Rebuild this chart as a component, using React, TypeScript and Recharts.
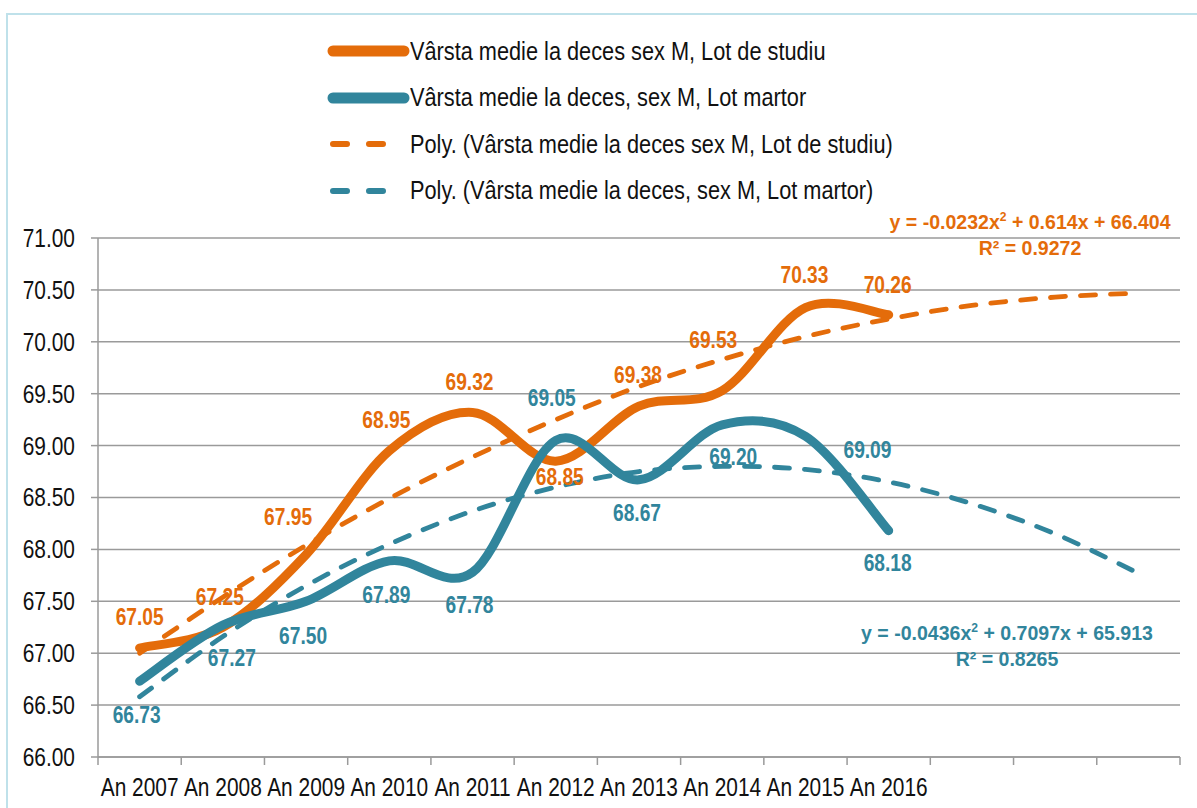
import { LineChart, Line, XAxis, YAxis, CartesianGrid, LabelList } from 'recharts';

// categories (last three are the trendline forecast periods, unlabeled)
const YEARS = ['An 2007', 'An 2008', 'An 2009', 'An 2010', 'An 2011', 'An 2012', 'An 2013', 'An 2014', 'An 2015', 'An 2016'];
const FORECAST = ['', '', ''];

const STUDIU = [67.05, 67.25, 67.95, 68.95, 69.32, 68.85, 69.38, 69.53, 70.33, 70.26];
const MARTOR = [66.73, 67.27, 67.5, 67.89, 67.78, 69.05, 68.67, 69.2, 69.09, 68.18];

const POLY_STUDIU = [67.0, 67.54, 68.04, 68.49, 68.89, 69.25, 69.57, 69.83, 70.05, 70.22, 70.35, 70.43, 70.47];
const POLY_MARTOR = [66.58, 67.16, 67.65, 68.05, 68.37, 68.6, 68.75, 68.8, 68.77, 68.65, 68.44, 68.15, 67.77];

const Y_TICKS = [66, 66.5, 67, 67.5, 68, 68.5, 69, 69.5, 70, 70.5, 71];

const NAMES = [
  'Vârsta medie la deces sex M, Lot de studiu',
  'Vârsta medie la deces, sex M, Lot martor',
  'Poly. (Vârsta medie la deces sex M, Lot de studiu)',
  'Poly. (Vârsta medie la deces, sex M, Lot martor)',
];

// trendline equations: [a, b, c, R²]
const EQ_STUDIU = ['-0.0232', '0.614', '66.404', '0.9272'];
const EQ_MARTOR = ['-0.0436', '0.7097', '65.913', '0.8265'];

const ORANGE = '#E46C0A';
const TEAL = '#31859C';
const GRID = '#9a9a9a';
const FONT = "'Liberation Sans', Arial, sans-serif";
const NARROW = 0.82; // arial narrow look: arial squeezed horizontally

const W = 1197;
const H = 808;
const M = { top: 238, right: 17, bottom: 11, left: 8 };
const Y_W = 90;
const X_H = 40;
const CATS = [...YEARS, ...FORECAST];
const PLOT_W = W - M.left - Y_W - M.right;
const HALF = PLOT_W / CATS.length / 2;

const data = CATS.map((cat, i) => ({
  cat,
  studiu: i < STUDIU.length ? STUDIU[i] : null,
  martor: i < MARTOR.length ? MARTOR[i] : null,
  polyStudiu: POLY_STUDIU[i],
  polyMartor: POLY_MARTOR[i],
}));

// label nudges (dx, dy) from the point, like the hand-placed excel labels
const STUDIU_POS = [[0, -31], [-3, -30], [-18, -38], [-3, -31], [-3, -31], [4, 16], [-1, -31], [-9, -51], [-1, -33], [-1, -30]];
const MARTOR_POS = [[-3, 34], [9, 33], [-3, 34], [-3, 34], [-3, 33], [-4, -43], [-2, 33], [11, 32], [62, 14], [-1, 32]];

// excel-style smoothed line (catmull-rom through the points)
function excelSmooth(context: any) {
  let pts: number[][] = [];
  return {
    areaStart() {},
    areaEnd() {},
    lineStart() {
      pts = [];
    },
    point(x: number, y: number) {
      pts.push([+x, +y]);
    },
    lineEnd() {
      const n = pts.length;
      if (!n) return;
      context.moveTo(pts[0][0], pts[0][1]);
      for (let i = 0; i < n - 1; i++) {
        const p0 = pts[i - 1] || pts[i];
        const p1 = pts[i];
        const p2 = pts[i + 1];
        const p3 = pts[i + 2] || p2;
        context.bezierCurveTo(
          p1[0] + (p2[0] - p0[0]) / 6, p1[1] + (p2[1] - p0[1]) / 6,
          p2[0] - (p3[0] - p1[0]) / 6, p2[1] - (p3[1] - p1[1]) / 6,
          p2[0], p2[1]
        );
      }
    },
  };
}

const NarrowText = ({ x, y, anchor = 'middle', size, color = '#111', bold = false, children }: any) => (
  <text transform={`translate(${x},${y}) scale(${NARROW},1)`} textAnchor={anchor} dy="0.35em"
    fill={color} fontFamily={FONT} fontSize={size} fontWeight={bold ? 'bold' : 'normal'}>
    {children}
  </text>
);

const makeLabel = (color: string, pos: number[][]) => (props: any) => {
  const { x, y, value, index } = props;
  if (value == null) return null;
  const [dx, dy] = pos[index] || [0, -30];
  return (
    <NarrowText x={x + dx} y={y + dy} size={23.4} color={color} bold>
      {Number(value).toFixed(2)}
    </NarrowText>
  );
};

const XTick = (props: any) => {
  const { x, y, payload, index } = props;
  return (
    <g>
      <line x1={x - HALF} x2={x - HALF} y1={y} y2={y + 8} stroke={GRID} strokeWidth={1.5} />
      {index === CATS.length - 1 && (
        <line x1={x + HALF} x2={x + HALF} y1={y} y2={y + 8} stroke={GRID} strokeWidth={1.5} />
      )}
      <NarrowText x={x} y={y + 30} size={25.5}>{payload.value}</NarrowText>
    </g>
  );
};

const YTick = (props: any) => {
  const { x, y, payload } = props;
  return (
    <NarrowText x={x} y={y} anchor="end" size={25.5}>
      {Number(payload.value).toFixed(2)}
    </NarrowText>
  );
};

function LegendBox() {
  const rows = [
    { color: ORANGE, dashed: false },
    { color: TEAL, dashed: false },
    { color: ORANGE, dashed: true },
    { color: TEAL, dashed: true },
  ];
  return (
    <>
      {rows.map((r, i) => (
        <div key={i} style={{ position: 'absolute', left: 326, top: 51 + i * 46.5 - 15, height: 30, display: 'flex', alignItems: 'center' }}>
          <svg width={84} height={30} style={{ flex: 'none' }}>
            {r.dashed ? (
              <line x1={7} x2={62} y1={15} y2={15} stroke={r.color} strokeWidth={6} strokeLinecap="round" strokeDasharray="14 22" />
            ) : (
              <line x1={7} x2={78} y1={15} y2={15} stroke={r.color} strokeWidth={11} strokeLinecap="round" />
            )}
          </svg>
          <span style={{ fontFamily: FONT, fontSize: 26.5, color: '#111', whiteSpace: 'nowrap', display: 'inline-block', transform: `scaleX(${NARROW})`, transformOrigin: 'left center' }}>
            {NAMES[i]}
          </span>
        </div>
      ))}
    </>
  );
}

function Equation({ eq, color, cx, top }: { eq: string[]; color: string; cx: number; top: number }) {
  const [a, b, c, r2] = eq;
  return (
    <div style={{ position: 'absolute', left: cx - 250, width: 500, top, textAlign: 'center', color, fontFamily: FONT, fontWeight: 'bold', fontSize: 21, lineHeight: '26px', transform: 'scaleX(0.93)' }}>
      <div>
        y = {a}x<sup style={{ fontSize: '0.62em', lineHeight: 0 }}>2</sup> + {b}x + {c}
      </div>
      <div>R² = {r2}</div>
    </div>
  );
}

export default function App() {
  return (
    <div style={{ position: 'absolute', left: 0, top: 0, width: W, height: H, overflow: 'hidden', background: '#fff' }}>
      <div style={{ position: 'absolute', left: 6, top: 13, width: W + 50, height: H + 50, border: '2px solid #bfe1ea', boxSizing: 'border-box' }} />
      <LineChart width={W} height={H} data={data} margin={M} style={{ position: 'absolute', left: 0, top: 0 }}>
        <CartesianGrid vertical={false} stroke={GRID} strokeWidth={1.5} />
        <XAxis dataKey="cat" height={X_H} padding={{ left: HALF, right: HALF }} tickSize={0} tickMargin={0}
          axisLine={{ stroke: GRID, strokeWidth: 1.5 }} tickLine={false} tick={<XTick />} interval={0} />
        <YAxis width={Y_W} domain={[66, 71]} ticks={Y_TICKS} tickSize={7} tickMargin={16}
          axisLine={{ stroke: GRID, strokeWidth: 1.5 }} tickLine={{ stroke: GRID, strokeWidth: 1.5 }}
          tick={<YTick />} interval={0} allowDataOverflow />
        <Line dataKey="studiu" type={excelSmooth as any} stroke={ORANGE} strokeWidth={9} strokeLinecap="round" dot={false} isAnimationActive={false} connectNulls={false} />
        <Line dataKey="martor" type={excelSmooth as any} stroke={TEAL} strokeWidth={9} strokeLinecap="round" dot={false} isAnimationActive={false} connectNulls={false} />
        <Line dataKey="polyStudiu" type={excelSmooth as any} stroke={ORANGE} strokeWidth={4.8} strokeLinecap="round" strokeDasharray="15 15" dot={false} isAnimationActive={false} />
        <Line dataKey="polyMartor" type={excelSmooth as any} stroke={TEAL} strokeWidth={4.8} strokeLinecap="round" strokeDasharray="15 15" dot={false} isAnimationActive={false} />
        <Line dataKey="studiu" stroke="none" dot={false} isAnimationActive={false} legendType="none">
          <LabelList dataKey="studiu" content={makeLabel(ORANGE, STUDIU_POS)} />
        </Line>
        <Line dataKey="martor" stroke="none" dot={false} isAnimationActive={false} legendType="none">
          <LabelList dataKey="martor" content={makeLabel(TEAL, MARTOR_POS)} />
        </Line>
      </LineChart>
      <LegendBox />
      <Equation eq={EQ_STUDIU} color={ORANGE} cx={1030} top={209} />
      <Equation eq={EQ_MARTOR} color={TEAL} cx={1007} top={620} />
    </div>
  );
}
